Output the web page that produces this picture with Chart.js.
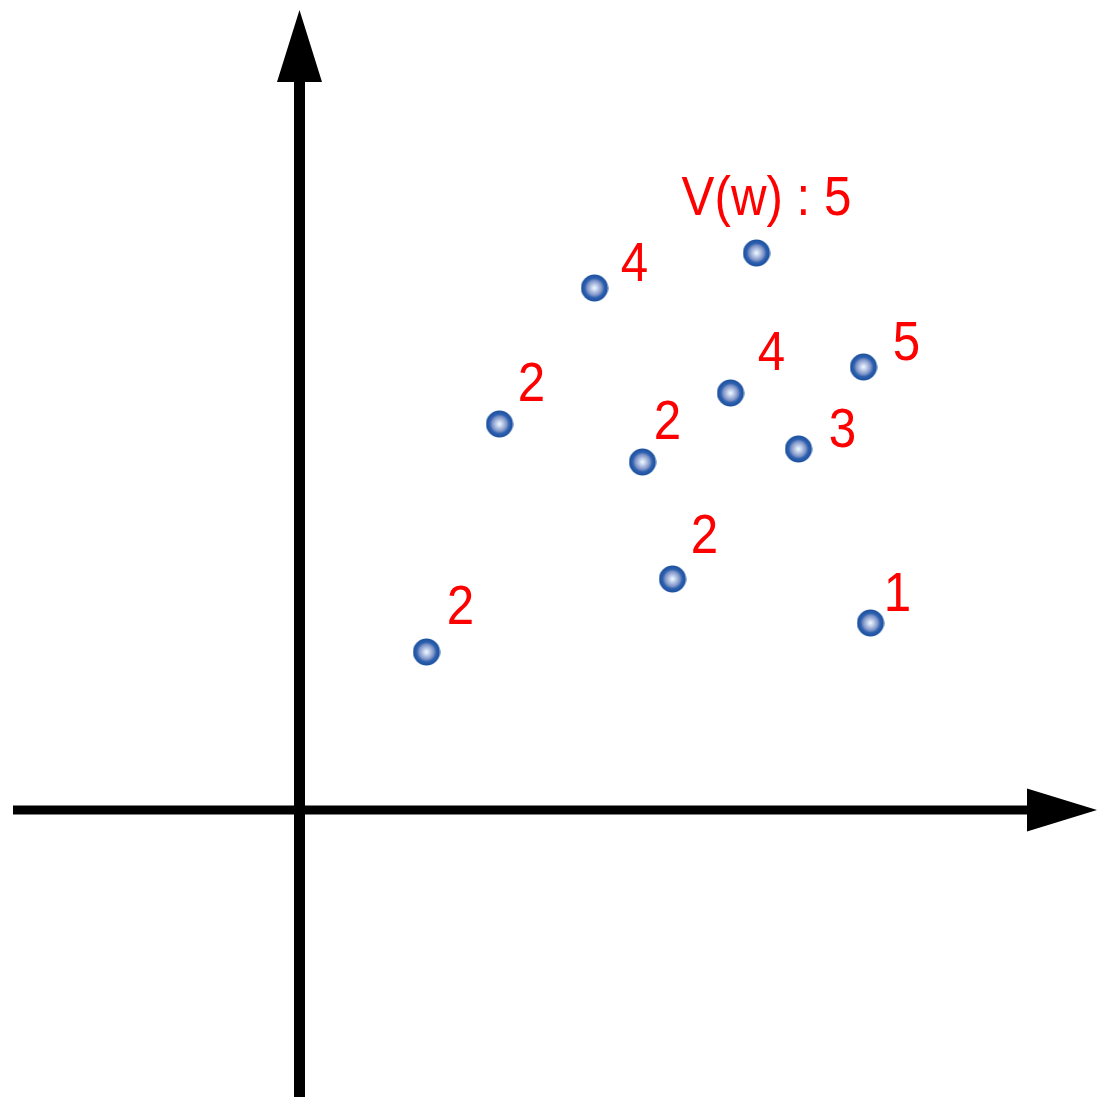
<!DOCTYPE html>
<html>
<head>
<meta charset="utf-8">
<title>V(w) scatter</title>
<script src="https://cdn.jsdelivr.net/npm/chart.js@4.4.0/dist/chart.umd.min.js"></script>
<style>
    html, body { margin: 0; padding: 0; background: #fff; }
    #wrap { width: 1097px; height: 1097px; }
</style>
</head>
<body>
<div id="wrap"><canvas id="chart" width="1097" height="1097"></canvas></div>
<script>
// Points in axis units (origin = where the two arrows cross)
const xValues = [1.27, 2.00, 2.95, 4.57, 3.43, 4.31, 5.64, 4.99, 3.73, 5.71];
const yValues = [1.58, 3.86, 5.22, 5.57, 3.48, 4.17, 4.43, 3.61, 2.31, 1.87];
const pointLabels = ['2', '2', '4', 'V(w) : 5', '2', '4', '5', '3', '2', '1'];

// label offset from its point, in px
const labelDx = [34, 32, 40, 10, 25, 41, 43, 44, 32, 27];
const labelDy = [-48, -43, -26, -52, -43, -42, -26, -21, -46, -31];

// visible range of the canvas, in axis units
const X_MIN = -2.995, X_MAX = 7.975;
const Y_MIN = -2.87, Y_MAX = 8.10;

function makeDot() {
    const c = document.createElement('canvas');
    c.width = 28; c.height = 28;
    const g = c.getContext('2d');
    const grad = g.createRadialGradient(14, 14, 0, 14, 14, 13.5);
    grad.addColorStop(0, '#f4fbff');
    grad.addColorStop(0.2, '#c8d6ee');
    grad.addColorStop(0.55, '#7d92c6');
    grad.addColorStop(0.72, '#2f62b0');
    grad.addColorStop(1, '#1a4f9e');
    g.fillStyle = grad;
    g.beginPath();
    g.arc(14, 14, 13.5, 0, Math.PI * 2);
    g.fill();
    return c;
}

const axesPlugin = {
    id: 'arrowAxes',
    beforeDatasetsDraw(chart) {
        const { ctx, chartArea, scales: { x, y } } = chart;
        const x0 = x.getPixelForValue(0);
        const y0 = y.getPixelForValue(0);
        ctx.save();
        ctx.fillStyle = '#000';
        // horizontal axis
        const xStart = x.getPixelForValue(-2.865);
        const xTip = chartArea.right;
        ctx.fillRect(xStart, y0 - 4.5, xTip - 60 - xStart, 9);
        ctx.beginPath();
        ctx.moveTo(xTip, y0);
        ctx.lineTo(xTip - 70, y0 - 21.5);
        ctx.lineTo(xTip - 70, y0 + 21.5);
        ctx.closePath();
        ctx.fill();
        // vertical axis
        const yTip = y.getPixelForValue(8.0);
        ctx.fillRect(x0 - 5.5, yTip + 60, 11, chartArea.bottom - yTip - 60);
        ctx.beginPath();
        ctx.moveTo(x0, yTip);
        ctx.lineTo(x0 - 22.5, yTip + 72);
        ctx.lineTo(x0 + 22.5, yTip + 72);
        ctx.closePath();
        ctx.fill();
        ctx.restore();
    },
    afterDatasetsDraw(chart) {
        const { ctx } = chart;
        const meta = chart.getDatasetMeta(0);
        ctx.save();
        ctx.fillStyle = '#ff0000';
        ctx.font = '56px "Liberation Sans", Arial, sans-serif';
        ctx.textAlign = 'center';
        ctx.textBaseline = 'alphabetic';
        meta.data.forEach((pt, i) => {
            const txt = pointLabels[i];
            const cx = pt.x + labelDx[i];
            const cy = pt.y + labelDy[i];
            const m = ctx.measureText(txt);
            const h = m.actualBoundingBoxAscent + m.actualBoundingBoxDescent;
            ctx.save();
            ctx.translate(cx, cy + h / 2 - m.actualBoundingBoxDescent);
            ctx.scale(0.88, 1);
            ctx.fillText(txt, 0, 0);
            ctx.restore();
        });
        ctx.restore();
    }
};

const dot = makeDot();

new Chart(document.getElementById('chart'), {
    type: 'scatter',
    data: {
        datasets: [{
            data: xValues.map((v, i) => ({ x: v, y: yValues[i] })),
            pointStyle: dot,
            pointRadius: 14,
            pointHoverRadius: 14,
            clip: false
        }]
    },
    options: {
        responsive: false,
        animation: false,
        layout: { padding: 0, autoPadding: false },
        plugins: {
            legend: { display: false },
            tooltip: { enabled: false }
        },
        scales: {
            x: { type: 'linear', min: X_MIN, max: X_MAX, display: false },
            y: { type: 'linear', min: Y_MIN, max: Y_MAX, display: false }
        }
    },
    plugins: [axesPlugin]
});
</script>
</body>
</html>
